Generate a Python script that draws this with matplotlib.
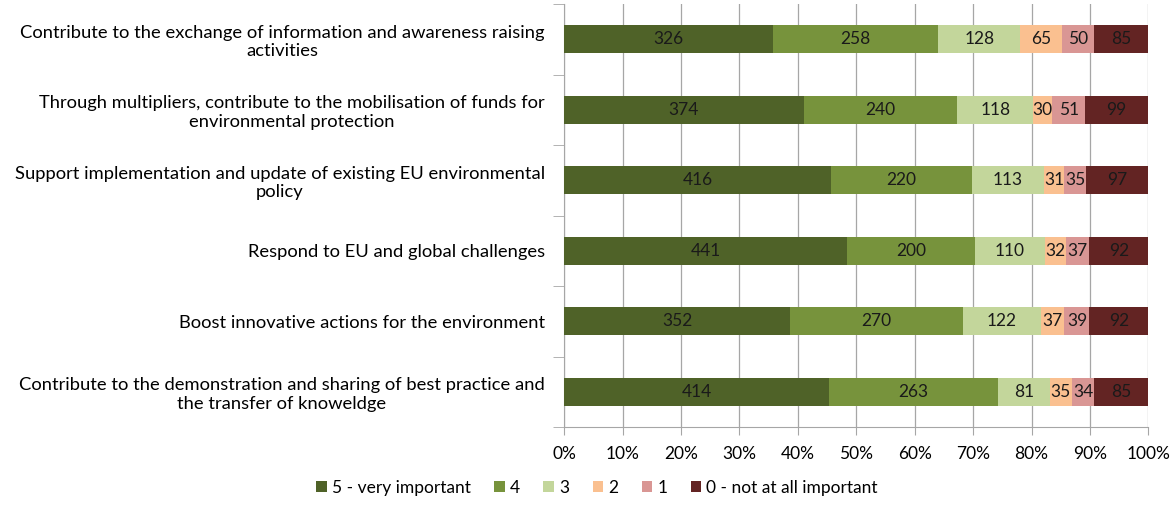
import numpy as np
import matplotlib.pyplot as plt
from matplotlib.ticker import PercentFormatter

plt.rcParams['font.family'] = ['Lato', 'DejaVu Sans']

categories = [
    'Contribute to the exchange of information and awareness raising\nactivities',
    'Through multipliers, contribute to the mobilisation of funds for\nenvironmental protection',
    'Support implementation and update of existing EU environmental\npolicy',
    'Respond to EU and global challenges',
    'Boost innovative actions for the environment',
    'Contribute to the demonstration and sharing of best practice and\nthe transfer of knoweldge',
]
series_names = ['5 - very important', '4', '3', '2', '1', '0 - not at all important']
counts = np.array([
    [326, 258, 128, 65, 50, 85],
    [374, 240, 118, 30, 51, 99],
    [416, 220, 113, 31, 35, 97],
    [441, 200, 110, 32, 37, 92],
    [352, 270, 122, 37, 39, 92],
    [414, 263, 81, 35, 34, 85],
])
colors = ['#4F6228', '#77933C', '#C3D69B', '#FAC090', '#D99694', '#632423']

shares = counts / counts.sum(axis=1, keepdims=True) * 100
y = np.arange(len(categories))

fig = plt.figure(figsize=(11.73, 5.09), dpi=100)
ax = fig.add_axes([0.481, 0.161, 0.498, 0.831])

left = np.zeros(len(categories))
for i, name in enumerate(series_names):
    bars = ax.barh(y, shares[:, i], left=left, height=0.4, color=colors[i], label=name, zorder=3)
    ax.bar_label(bars, labels=[str(v) for v in counts[:, i]], label_type='center', fontsize=12.5, color='#1a1a1a')
    left += shares[:, i]

ax.set_xlim(0, 100)
ax.set_ylim(len(categories) - 0.5, -0.5)
ax.set_xticks(np.arange(0, 101, 10))
ax.xaxis.set_major_formatter(PercentFormatter(decimals=0))
ax.grid(axis='x', color='#a6a6a6', linewidth=0.9, zorder=0)

ax.set_yticks(y)
ax.set_yticklabels(categories, multialignment='center', fontsize=13.2)
ax.set_yticks(np.arange(-0.5, len(categories) + 0.5, 1), minor=True)
ax.tick_params(axis='y', which='major', length=0, pad=14)
ax.tick_params(axis='y', which='minor', length=8, color='#a6a6a6', direction='out')
ax.tick_params(axis='x', length=6, color='#a6a6a6', direction='out', labelsize=12.5, pad=8)

for s in ['top', 'right']:
    ax.spines[s].set_visible(False)
ax.spines['left'].set_color('#a6a6a6')
ax.spines['bottom'].set_color('#a6a6a6')

fig.legend(loc='lower center', bbox_to_anchor=(0.509, -0.005), ncol=6, frameon=False, fontsize=12.5,
           handlelength=0.6, handleheight=0.6, handletextpad=0.3, columnspacing=1.35)

fig.savefig('out.png', dpi=100)
